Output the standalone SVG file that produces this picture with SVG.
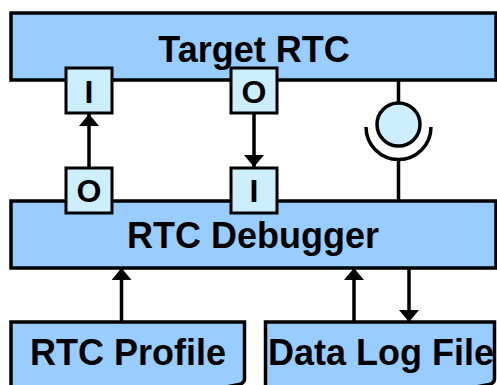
<svg xmlns="http://www.w3.org/2000/svg" width="497" height="385" viewBox="0 0 497 385">
  <defs>
    <style>
      .box { fill: #99ccff; stroke: #000; stroke-width: 3.5; }
      .port { fill: #cceeff; stroke: #000; stroke-width: 3; }
      .lbl { font-family: "Liberation Sans", Arial, sans-serif; font-weight: bold; font-size: 36px; text-anchor: middle; fill: #000; }
      .plbl { font-family: "Liberation Sans", Arial, sans-serif; font-weight: bold; font-size: 32px; text-anchor: middle; fill: #000; }
      .wire { stroke: #000; stroke-width: 3.5; fill: none; }
    </style>
    <marker id="ah" markerUnits="userSpaceOnUse" markerWidth="12" markerHeight="20" refX="12" refY="10" viewBox="0 0 12 20" orient="auto">
      <path d="M0,0 L12,10 L0,20 Z" fill="#000"/>
    </marker>
  </defs>

  <g id="connectors">
    <line class="wire" x1="89" y1="167" x2="89" y2="114" marker-end="url(#ah)"/>
    <line class="wire" x1="254" y1="114" x2="254" y2="167" marker-end="url(#ah)"/>
    <line class="wire" x1="121.5" y1="322" x2="121.5" y2="268" marker-end="url(#ah)"/>
    <line class="wire" x1="354" y1="322" x2="354" y2="268" marker-end="url(#ah)"/>
    <line class="wire" x1="409" y1="268" x2="409" y2="322" marker-end="url(#ah)"/>
    <line class="wire" x1="398.5" y1="80" x2="398.5" y2="103"/>
    <line class="wire" x1="398.5" y1="159" x2="398.5" y2="201"/>
  </g>

  <g id="target-rtc">
    <rect class="box" x="11" y="13" width="485" height="67"/>
    <text class="lbl" x="254" y="62">Target RTC</text>
  </g>

  <g id="rtc-debugger">
    <rect class="box" x="11" y="201" width="485" height="67"/>
    <text class="lbl" x="253" y="248">RTC Debugger</text>
  </g>

  <g id="target-in">
    <rect class="port" x="66" y="68" width="46" height="45"/>
    <text class="plbl" x="89" y="103">I</text>
  </g>
  <g id="target-out">
    <rect class="port" x="231" y="68" width="46" height="45"/>
    <text class="plbl" x="254" y="103">O</text>
  </g>
  <g id="debugger-out">
    <rect class="port" x="66" y="168" width="46" height="45"/>
    <text class="plbl" x="89" y="202">O</text>
  </g>
  <g id="debugger-in">
    <rect class="port" x="231" y="168" width="46" height="45"/>
    <text class="plbl" x="254" y="202">I</text>
  </g>

  <g id="service-port">
    <circle cx="398.5" cy="124.5" r="21.5" fill="#cceeff" stroke="#000" stroke-width="3.5"/>
    <path d="M366,127 A32.5,32.5 0 0 0 431,127" class="wire"/>
  </g>

  <g id="rtc-profile">
    <path class="box" d="M11,395 V322 H244.5 V379 Q244.5,383 239,384.5 Q200,392 180,396"/>
    <text class="lbl" x="128" y="365">RTC Profile</text>
  </g>

  <g id="data-log-file">
    <path class="box" d="M265.5,395 V322 H494.5 V379 Q494.5,383 489,384.5 Q450,392 430,396"/>
    <text class="lbl" x="381" y="365">Data Log File</text>
  </g>
</svg>
